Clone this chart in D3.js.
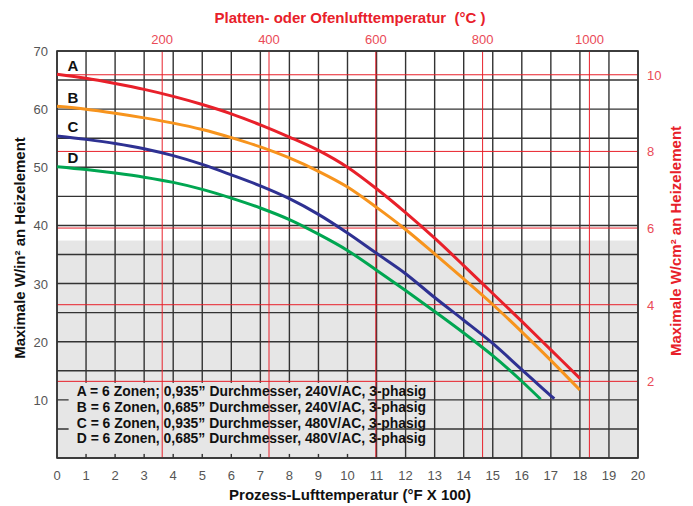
<!DOCTYPE html>
<html>

<head>
    <title>Heizelement Leistung</title>
    <script src="https://d3js.org/d3.v7.min.js"></script>
    <style>
        body { margin: 0; background: #fff; }
        text { font-family: "Liberation Sans", Arial, sans-serif; }
        .grid line { stroke: #333; stroke-width: 1.4px; }
        .red line { stroke: #e8202a; stroke-width: 1px; }
        .curve { fill: none; stroke-width: 3px; }
        .tick-label { font-size: 13px; fill: #555; }
        .red-label { font-size: 13px; fill: #ea4a57; }
        .title { font-size: 15px; font-weight: bold; white-space: pre; }
    </style>
</head>

<body>
    <div id="chart"></div>
    <script>
        // x: Prozess-Lufttemperatur (°F x 100), y: W/in²
        const fTicks = d3.range(0, 21);
        const inTicks = [10, 20, 30, 40, 50, 60, 70];
        const inGrid = d3.range(0, 71, 5);
        const cmTicks = [2, 4, 6, 8, 10];
        const cTicks = [200, 400, 600, 800, 1000];
        const shadeBelow = 37.4;   // grey band under this W/in² value

        const seriesNames = ["A", "B", "C", "D"];
        const seriesColors = ["#e8202a", "#f7941d", "#2e3192", "#00a651"];
        const legendLines = [
            "A = 6 Zonen; 0,935” Durchmesser, 240V/AC, 3-phasig",
            "B = 6 Zonen, 0,685” Durchmesser, 240V/AC, 3-phasig",
            "C = 6 Zonen, 0,935” Durchmesser, 480V/AC, 3-phasig",
            "D = 6 Zonen, 0,685” Durchmesser, 480V/AC, 3-phasig"
        ];

        const curveA = [[0, 66.0], [1, 65.3], [2, 64.4], [3, 63.4], [4, 62.2], [5, 60.8], [6, 59.2], [7, 57.3], [8, 55.2],
            [9, 52.9], [10, 50.0], [11, 46.3], [12, 42.2], [13, 37.8], [14, 33.1], [15, 28.3], [16, 23.5], [17, 18.6], [18, 13.7]];
        const curveB = [[0, 60.5], [1, 60.0], [2, 59.3], [3, 58.5], [4, 57.6], [5, 56.5], [6, 55.1], [7, 53.5], [8, 51.6],
            [9, 49.3], [10, 46.6], [11, 43.1], [12, 39.3], [13, 35.1], [14, 30.8], [15, 26.4], [16, 21.7], [17, 16.8], [18, 11.7]];
        const curveC = [[0, 55.4], [1, 54.8], [2, 54.1], [3, 53.2], [4, 52.0], [5, 50.5], [6, 48.7], [7, 46.8], [8, 44.6],
            [9, 41.9], [10, 38.7], [11, 35.2], [12, 31.7], [13, 27.6], [14, 23.7], [15, 19.7], [16, 15.2], [17, 10.7], [17.12, 10.2]];
        const curveD = [[0, 50.1], [1, 49.6], [2, 49.0], [3, 48.3], [4, 47.4], [5, 46.2], [6, 44.7], [7, 43.0], [8, 41.0],
            [9, 38.5], [10, 35.7], [11, 32.3], [12, 28.8], [13, 25.2], [14, 21.5], [15, 17.6], [16, 13.2], [16.65, 10.1]];
        const curves = [curveA, curveB, curveC, curveD];

        const margin = { top: 51, right: 55, bottom: 48, left: 57 };
        const totalW = 693, totalH = 506;
        const width = totalW - margin.left - margin.right;
        const height = totalH - margin.top - margin.bottom;

        const svg = d3.select("#chart")
            .append("svg")
            .attr("width", totalW)
            .attr("height", totalH);

        const g = svg.append("g").attr("transform", `translate(${margin.left},${margin.top})`);

        const x = d3.scaleLinear().domain([0, 20]).range([0, width]);
        const y = d3.scaleLinear().domain([0, 70]).range([height, 0]);
        const yCm = d3.scaleLinear().domain([0, 10.62]).range([height, 0]);
        const xC = d3.scaleLinear().domain([3, 1091]).range([0, width]);

        // grey band
        g.append("rect")
            .attr("x", 0).attr("y", y(shadeBelow))
            .attr("width", width).attr("height", height - y(shadeBelow))
            .attr("fill", "#e6e6e6");

        // black grid
        const grid = g.append("g").attr("class", "grid");
        grid.selectAll(".v").data(fTicks).join("line")
            .attr("x1", d => x(d)).attr("x2", d => x(d))
            .attr("y1", 0).attr("y2", height);
        grid.selectAll(".h").data(inGrid).join("line")
            .attr("x1", 0).attr("x2", width)
            .attr("y1", d => y(d)).attr("y2", d => y(d));

        // legend box covers the grid
        g.append("rect")
            .attr("x", x(0.4)).attr("y", yCm(2) + 1.5)
            .attr("width", x(10.7) - x(0.4)).attr("height", y(0.7) - yCm(2) - 1.5)
            .attr("fill", "#e6e6e6");

        // red grid (°C and W/cm²)
        const red = g.append("g").attr("class", "red");
        red.selectAll(".v").data(cTicks).join("line")
            .attr("x1", d => xC(d)).attr("x2", d => xC(d))
            .attr("y1", 0).attr("y2", height);
        red.selectAll(".h").data(cmTicks).join("line")
            .attr("x1", 0).attr("x2", width)
            .attr("y1", d => yCm(d)).attr("y2", d => yCm(d));

        // frame
        g.append("rect")
            .attr("width", width).attr("height", height)
            .attr("fill", "none").attr("stroke", "#333").attr("stroke-width", 1.6);

        // curves
        const line = d3.line()
            .x(d => x(d[0]))
            .y(d => y(d[1]))
            .curve(d3.curveMonotoneX);

        g.selectAll(".curve").data(curves).join("path")
            .attr("class", "curve")
            .attr("d", line)
            .attr("stroke", (d, i) => seriesColors[i]);

        // curve letters
        g.selectAll(".letter").data(seriesNames).join("text")
            .attr("x", x(0.55))
            .attr("y", (d, i) => y(curves[i][0][1]) - 3.5)
            .attr("text-anchor", "middle")
            .attr("font-size", 15)
            .attr("font-weight", "bold")
            .attr("fill", "#111")
            .text(d => d);

        // legend text
        g.selectAll(".legend").data(legendLines).join("text")
            .attr("x", x(0.68))
            .attr("y", (d, i) => yCm(2) + 15 + i * 15.7)
            .attr("font-size", 13.9)
            .attr("font-weight", "bold")
            .attr("fill", "#111")
            .text(d => d);

        // bottom tick labels
        g.selectAll(".fl").data(fTicks).join("text")
            .attr("class", "tick-label")
            .attr("x", d => x(d)).attr("y", height + 22)
            .attr("text-anchor", "middle")
            .text(d => d);

        // left tick labels
        g.selectAll(".il").data(inTicks).join("text")
            .attr("class", "tick-label")
            .attr("x", -9).attr("y", d => y(d) + 5)
            .attr("text-anchor", "end")
            .text(d => d);

        // top tick labels
        g.selectAll(".cl").data(cTicks).join("text")
            .attr("class", "red-label")
            .attr("x", d => xC(d)).attr("y", -7)
            .attr("text-anchor", "middle")
            .text(d => d);

        // right tick labels
        g.selectAll(".rl").data(cmTicks).join("text")
            .attr("class", "red-label")
            .attr("x", width + 9).attr("y", d => yCm(d) + 5)
            .attr("text-anchor", "start")
            .text(d => d);

        // titles
        svg.append("text")
            .attr("class", "title")
            .attr("x", 350).attr("y", 23)
            .attr("text-anchor", "middle")
            .attr("fill", "#e8202a")
            .attr("font-size", 17)
            .text("Platten- oder Ofenlufttemperatur  (°C )");

        svg.append("text")
            .attr("class", "title")
            .attr("x", 350).attr("y", 500)
            .attr("text-anchor", "middle")
            .attr("fill", "#111")
            .attr("font-size", 16)
            .text("Prozess-Lufttemperatur (°F X 100)");

        svg.append("text")
            .attr("class", "title")
            .attr("transform", `translate(25,248) rotate(-90)`)
            .attr("text-anchor", "middle")
            .attr("fill", "#111")
            .text("Maximale W/in² an Heizelement");

        svg.append("text")
            .attr("class", "title")
            .attr("transform", `translate(681,241) rotate(-90)`)
            .attr("text-anchor", "middle")
            .attr("fill", "#e8202a")
            .text("Maximale W/cm² an Heizelement");
    </script>

</body>

</html>
